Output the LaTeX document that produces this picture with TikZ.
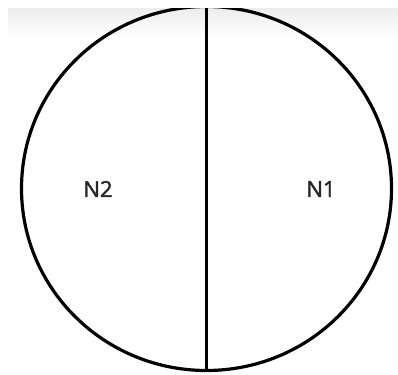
\documentclass[tikz,border=0pt]{standalone}
\usepackage{fontspec}
\newfontfamily\regionfont[FakeBold=1.8]{Open Sans}
\usetikzlibrary{shapes.geometric, positioning}

\begin{document}
\begin{tikzpicture}[
    x=0.75pt, y=-0.75pt,
    region/.style={ellipse, draw=black, line width=2.4pt, inner sep=0pt, minimum width=277.5pt, minimum height=273pt},
    label/.style={font=\regionfont\fontsize{16.5}{18}\selectfont, text=black!85},
    divider/.style={draw=black, line width=2.2pt}
  ]
    \useasboundingbox (0,0) rectangle (398,374);
    \fill[white] (0,0) rectangle (398,374);
    \shade[top color=black!7, bottom color=white] (8,9) rectangle (398,40);
    \begin{scope}
      \clip (0,9) rectangle (398,374);
      \node[region] (disc) at (206.5,188.5) {};
      \draw[divider] (disc.north) -- (disc.south);
    \end{scope}
    \node[label] (n2) at (98,189) {N2};
    \node[label] (n1) at (321,189) {N1};
  \end{tikzpicture}
\end{document}
